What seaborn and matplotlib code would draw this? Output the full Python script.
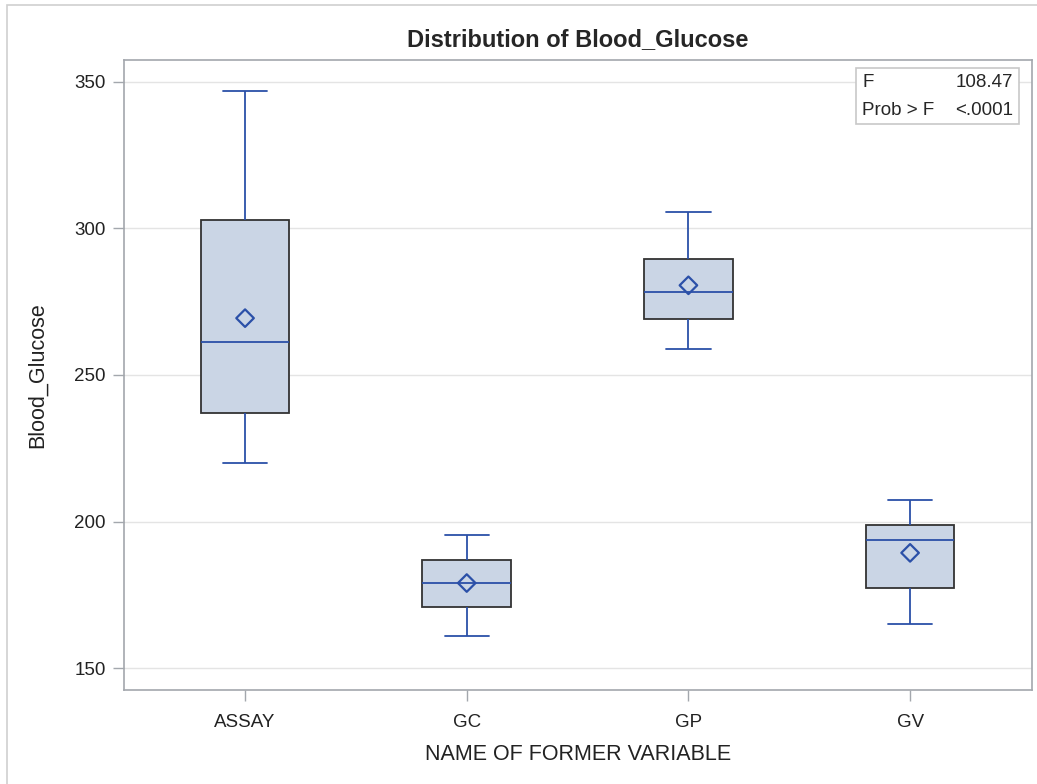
import pandas as pd
import numpy as np
import matplotlib.pyplot as plt
import seaborn as sns
from matplotlib.patches import Rectangle

# --- datos (resumen de cinco numeros + media) ---
grupos = ['ASSAY', 'GC', 'GP', 'GV']
bigote_inf = [220.0, 161.0, 259.0, 165.0]
q1 = [237.0, 170.8, 269.1, 177.2]
mediana = [261.3, 179.0, 278.3, 193.8]
q3 = [302.9, 187.0, 289.5, 198.8]
bigote_sup = [346.8, 195.5, 305.6, 207.2]
medias = [269.4, 179.0, 280.6, 189.3]

f_valor = '108.47'
p_valor = '<.0001'

# tabla larga: cinco valores por grupo reproducen los cuartiles
filas = []
for i, g in enumerate(grupos):
    for v in [bigote_inf[i], q1[i], mediana[i], q3[i], bigote_sup[i]]:
        filas.append({'grupo': g, 'Blood_Glucose': v})
df = pd.DataFrame(filas)
df_media = pd.DataFrame({'grupo': grupos, 'media': medias})

azul = '#2B50A8'
relleno = '#CAD5E5'
gris_eje = '#A3A7AD'

sns.set_style('white')
plt.rcParams['font.family'] = ['Liberation Sans', 'DejaVu Sans']

fig = plt.figure(figsize=(10.37, 7.84), dpi=100)
ax = fig.add_axes([0.1196, 0.1199, 0.8756, 0.8036])

# marco exterior
fig.patches.append(Rectangle((0.0068, -0.2), 1.5, 1.2 - 5 / 784, transform=fig.transFigure,
                             fill=False, edgecolor='#CFCFCF', linewidth=1.2))

ax.yaxis.grid(True, color='#E4E4E4', linewidth=1)
ax.set_axisbelow(True)

sns.boxplot(data=df, x='grupo', y='Blood_Glucose', order=grupos, ax=ax,
            width=0.4, whis=(0, 100), fill=True, linewidth=1.3,
            boxprops=dict(facecolor=relleno, edgecolor='#333333', linewidth=1.3),
            whiskerprops=dict(color=azul, linewidth=1.3),
            capprops=dict(color=azul, linewidth=1.3),
            medianprops=dict(color=azul, linewidth=1.3),
            showfliers=False)

sns.scatterplot(data=df_media, x='grupo', y='media', ax=ax, marker='D', s=80,
                facecolor='none', edgecolor=azul, linewidth=1.6, zorder=5)

ax.set_xlim(-0.546, 3.55)
ax.set_ylim(142.5, 357.5)
ax.set_yticks([150, 200, 250, 300, 350])

for s in ax.spines.values():
    s.set_color(gris_eje)
    s.set_linewidth(1.2)
ax.tick_params(axis='both', which='major', bottom=True, left=True, direction='out',
               length=8, width=1, color=gris_eje, labelsize=13.5, labelcolor='#222222', pad=5)
ax.tick_params(axis='x', pad=9)

ax.set_title('Distribution of Blood_Glucose', fontsize=17, fontweight='bold', pad=10)
ax.set_xlabel('NAME OF FORMER VARIABLE', fontsize=15.5, color='#222222', labelpad=10)
ax.set_ylabel('Blood_Glucose', fontsize=15.5, color='#222222', labelpad=19)

# cuadro con el estadistico F
ax.add_patch(Rectangle((0.806, 0.898), 0.180, 0.089, transform=ax.transAxes,
                       facecolor='white', edgecolor='#C8C8C8', linewidth=1.2, zorder=6))
ax.text(0.813, 0.965, 'F', transform=ax.transAxes, fontsize=13.5, va='center', ha='left', zorder=7)
ax.text(0.979, 0.965, f_valor, transform=ax.transAxes, fontsize=13.5, va='center', ha='right', zorder=7)
ax.text(0.813, 0.920, 'Prob > F', transform=ax.transAxes, fontsize=13.5, va='center', ha='left', zorder=7)
ax.text(0.979, 0.920, p_valor, transform=ax.transAxes, fontsize=13.5, va='center', ha='right', zorder=7)

fig.savefig('out.png', dpi=100)
